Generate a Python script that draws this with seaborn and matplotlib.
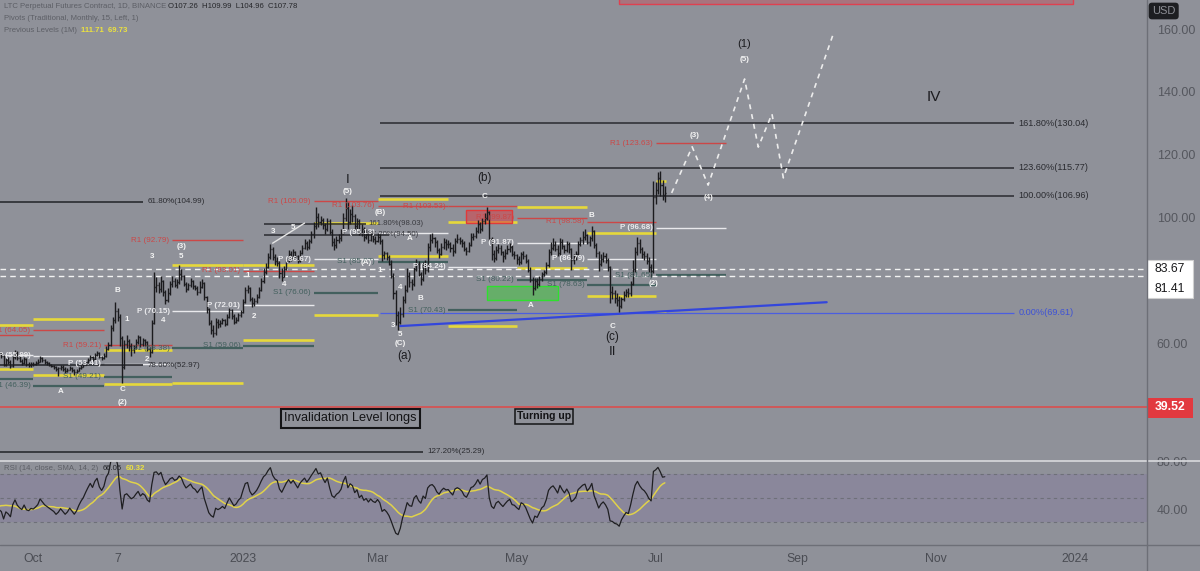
import numpy as np
import pandas as pd
import matplotlib
matplotlib.use("Agg")
import matplotlib.pyplot as plt
import matplotlib.dates as mdates
from matplotlib.patches import Rectangle
from matplotlib.lines import Line2D
from matplotlib.transforms import blended_transform_factory
import seaborn as sns

# ---------------------------------------------------------------- data
history_start = "2022-08-17"
history_close = [60.8, 59.6, 55.1, 54.9, 55.6, 55.2, 55.8, 55.4, 55.9, 52.8, 53.6, 53.1, 52.4, 55.1, 54.6,
                 54.2, 56.1, 55.8, 55.3, 56.2, 57.1, 56.4, 57.9, 60.8, 61.3, 61.9, 60.2, 57.4, 57.8, 57.0]

close_sep = [56.4, 55.8, 53.1, 54.6, 53.9, 52.8, 55.6, 56.9, 55.2, 54.3, 53.7, 54.8, 53.2, 52.9, 53.4]
high_sep = [57.6, 57.2, 56.3, 55.1, 55.4, 54.6, 56.2, 57.8, 57.3, 55.9, 55.0, 55.6, 55.3, 54.0, 54.1]
low_sep = [55.9, 55.1, 52.6, 52.8, 53.2, 52.1, 52.4, 55.0, 54.6, 53.8, 52.9, 53.3, 52.7, 52.2, 52.5]

close_oct = [53.2, 53.6, 54.1, 55.3, 54.6, 53.9, 53.5, 53.1, 52.7, 52.3, 51.6, 51.9, 52.4, 51.8, 51.2, 51.5,
             52.0, 51.4, 50.8, 51.2, 51.9, 52.5, 53.0, 53.8, 54.6, 55.4, 54.9, 56.1, 56.8, 55.7, 55.2]
high_oct = [53.9, 54.2, 54.8, 56.0, 55.7, 54.9, 54.3, 53.9, 53.4, 53.0, 52.6, 52.5, 53.1, 52.9, 52.2, 52.1,
            52.6, 52.3, 51.8, 51.7, 52.4, 53.1, 53.6, 54.4, 55.3, 56.2, 55.9, 56.8, 57.6, 57.1, 56.0]
low_oct = [52.7, 52.9, 53.2, 53.9, 54.1, 53.3, 52.9, 52.6, 52.2, 51.7, 51.0, 49.4, 51.3, 51.2, 50.6, 50.9,
           51.3, 50.7, 49.9, 50.5, 51.0, 51.8, 52.3, 52.9, 53.7, 54.5, 54.3, 54.7, 55.9, 55.1, 54.6]

close_nov = [56.0, 58.2, 59.4, 64.8, 67.2, 70.1, 68.3, 61.5, 52.4, 59.8, 60.6, 59.2, 57.9, 58.6, 60.3, 61.8,
             59.7, 60.9, 60.2, 58.1, 57.2, 66.5, 77.8, 78.4, 77.1, 79.6, 76.3, 73.8, 75.9, 78.7]
high_nov = [56.9, 58.9, 60.3, 65.7, 68.4, 73.0, 71.2, 69.1, 62.3, 61.0, 62.4, 61.3, 60.1, 59.5, 61.2, 62.7,
            62.1, 61.6, 61.4, 60.6, 58.7, 67.4, 82.6, 80.9, 79.3, 81.2, 80.1, 76.8, 77.4, 79.8]
low_nov = [54.8, 55.6, 57.7, 58.9, 63.8, 66.5, 66.9, 59.2, 47.4, 51.8, 58.3, 57.6, 55.8, 56.9, 58.1, 59.6,
           58.7, 59.2, 59.1, 57.3, 55.6, 56.8, 65.9, 76.2, 75.8, 76.4, 75.1, 72.4, 73.2, 75.4]

close_dec = [79.8, 78.6, 79.4, 82.1, 81.3, 78.9, 77.2, 78.4, 79.6, 78.1, 77.5, 76.2, 77.8, 79.1, 74.5, 70.8,
             66.3, 64.2, 63.1, 66.8, 65.9, 66.4, 67.2, 66.1, 68.3, 70.4, 68.6, 66.7, 67.4, 68.9, 69.8]
high_dec = [81.3, 80.6, 80.4, 84.8, 83.5, 81.7, 79.4, 79.2, 80.7, 80.2, 78.6, 78.1, 79.6, 80.4, 79.3, 75.1,
            71.2, 67.4, 65.8, 67.9, 67.6, 67.3, 68.1, 67.8, 69.2, 71.1, 70.9, 69.1, 68.3, 69.7, 70.5]
low_dec = [77.9, 77.8, 77.6, 78.9, 80.2, 78.1, 76.4, 76.8, 77.9, 77.3, 76.8, 75.4, 75.9, 77.6, 73.8, 69.6,
           65.8, 62.9, 61.8, 62.7, 64.8, 65.1, 65.9, 65.4, 65.8, 67.9, 67.8, 66.1, 66.3, 67.1, 68.4]

close_jan = [73.2, 76.8, 77.4, 74.1, 72.6, 73.5, 74.8, 76.9, 79.8, 82.6, 84.1, 87.3, 89.9, 87.4, 86.1, 85.6,
             82.4, 81.1, 83.5, 86.2, 88.4, 87.1, 88.9, 87.6, 86.2, 88.8, 90.4, 91.9, 90.6, 92.4, 94.8]
high_jan = [74.1, 77.9, 78.6, 77.9, 74.8, 74.4, 75.6, 77.8, 80.6, 83.9, 85.4, 88.7, 91.4, 90.6, 88.3, 87.4,
            86.2, 83.9, 84.6, 87.1, 89.6, 89.2, 89.9, 89.4, 88.1, 89.6, 91.3, 93.2, 92.6, 93.1, 95.6]
low_jan = [69.6, 72.8, 75.9, 73.4, 71.4, 71.9, 72.8, 74.3, 76.5, 79.2, 81.9, 83.8, 86.7, 86.3, 84.9, 84.6,
           80.8, 79.6, 80.9, 83.2, 85.7, 86.2, 86.8, 86.9, 85.4, 85.9, 88.2, 89.8, 89.7, 89.9, 91.8]

close_feb = [97.2, 100.1, 98.4, 99.3, 97.6, 96.2, 98.9, 95.4, 92.1, 91.3, 92.8, 93.6, 95.2, 99.8, 103.1,
             98.6, 101.2, 100.4, 97.3, 98.9, 95.1, 96.4, 93.8, 94.7, 92.9, 94.3, 93.1, 92.6]
high_feb = [98.4, 103.2, 101.3, 100.6, 99.9, 98.1, 99.7, 99.4, 96.2, 93.4, 94.1, 94.7, 96.3, 101.4, 106.2,
            104.8, 102.6, 103.9, 101.2, 99.8, 99.6, 97.9, 97.1, 96.2, 95.4, 95.8, 95.3, 94.2]
low_feb = [93.6, 96.4, 96.8, 97.6, 96.3, 94.8, 95.7, 94.6, 90.8, 89.6, 90.4, 91.8, 92.6, 94.7, 98.9,
           96.4, 97.8, 98.6, 95.8, 96.1, 94.3, 94.1, 92.6, 93.2, 91.7, 92.4, 92.1, 91.6]

close_mar = [93.8, 92.4, 87.9, 88.6, 87.3, 85.2, 81.4, 75.8, 68.9, 66.8, 69.2, 73.6, 76.8, 81.5, 79.3, 78.9,
             83.6, 85.2, 82.1, 80.4, 84.7, 83.2, 90.6, 92.8, 93.4, 92.1, 89.6, 88.3, 90.7, 92.2, 91.4]
high_mar = [95.1, 94.6, 93.2, 89.4, 89.1, 87.9, 86.3, 82.4, 76.8, 70.2, 71.4, 74.9, 78.6, 83.9, 82.7, 80.4,
            85.1, 86.9, 86.1, 82.7, 85.9, 86.3, 91.8, 94.6, 95.1, 93.8, 92.7, 90.4, 91.8, 93.6, 93.1]
low_mar = [92.1, 91.6, 86.2, 86.9, 86.4, 84.7, 80.6, 73.9, 65.7, 64.3, 66.1, 68.4, 72.8, 76.2, 77.8, 76.9,
           78.3, 82.9, 81.4, 78.6, 79.8, 81.9, 82.7, 89.4, 91.8, 90.6, 88.7, 87.1, 87.9, 89.8, 89.7]

close_apr = [91.6, 90.3, 89.2, 92.4, 93.1, 92.6, 91.8, 90.1, 89.4, 91.3, 93.7, 94.2, 95.6, 97.8, 96.4, 98.9,
             99.7, 101.6, 93.2, 88.4, 87.1, 89.6, 90.4, 88.9, 87.6, 88.8, 89.9, 90.6, 88.2, 87.9]
high_apr = [92.8, 92.1, 91.4, 93.6, 94.8, 93.9, 93.2, 92.4, 90.6, 92.2, 94.9, 95.1, 96.8, 99.1, 98.6, 99.8,
            101.4, 103.4, 101.9, 93.8, 89.6, 90.8, 91.6, 91.2, 89.4, 89.9, 91.3, 91.8, 91.1, 89.4]
low_apr = [90.4, 89.1, 87.6, 88.7, 91.8, 91.6, 90.7, 89.2, 88.1, 88.9, 90.8, 92.9, 93.6, 95.1, 95.2, 95.8,
           97.9, 99.3, 92.4, 86.6, 85.9, 86.4, 88.7, 88.1, 85.7, 86.9, 88.2, 89.1, 87.6, 86.8]

close_may = [86.8, 85.9, 88.2, 87.6, 86.1, 83.4, 80.2, 77.4, 79.6, 78.8, 80.3, 81.9, 82.6, 84.8, 88.9, 90.4,
             91.2, 90.1, 88.7, 92.3, 90.8, 89.6, 91.4, 89.9, 86.4, 87.1, 88.3, 91.6, 92.7, 93.8, 94.3]
high_may = [88.4, 87.6, 89.1, 89.3, 88.4, 86.9, 84.1, 80.9, 80.7, 80.6, 81.4, 82.7, 83.4, 85.9, 89.8, 92.1,
            93.4, 92.6, 91.2, 93.4, 93.1, 91.2, 92.6, 92.3, 90.4, 88.3, 89.4, 92.6, 93.9, 95.8, 96.4]
low_may = [85.3, 84.9, 85.1, 86.8, 85.4, 82.6, 79.3, 75.4, 76.8, 77.6, 78.2, 79.6, 81.4, 82.1, 84.2, 88.1,
           89.6, 89.2, 87.6, 88.1, 89.9, 88.7, 88.9, 88.6, 83.2, 85.3, 86.4, 87.9, 90.8, 91.6, 92.8]

close_jun = [92.1, 93.4, 95.6, 91.2, 88.6, 85.3, 86.9, 87.8, 86.4, 84.1, 76.3, 75.8, 74.2, 73.6, 71.8, 73.9,
             75.2, 76.4, 75.8, 78.9, 83.6, 88.9, 91.7, 89.8, 88.4, 87.6, 86.2, 84.1, 82.9, 106.4]
high_jun = [94.8, 94.1, 97.2, 96.1, 91.8, 89.2, 88.3, 89.1, 88.6, 87.2, 84.6, 78.3, 76.9, 75.8, 74.9, 74.8,
            76.6, 77.2, 77.4, 79.8, 86.4, 90.6, 93.8, 93.1, 90.6, 89.4, 88.7, 87.4, 85.1, 111.71]
low_jun = [91.4, 90.8, 92.6, 90.4, 87.3, 82.9, 84.6, 85.9, 85.6, 82.8, 72.8, 74.1, 72.6, 71.9, 69.73, 71.3,
           73.4, 74.6, 74.8, 75.1, 78.4, 82.7, 87.9, 88.6, 87.2, 86.4, 85.1, 82.6, 80.9, 82.4]

close_jul = [108.8, 112.6, 110.3, 107.3, 107.78]
high_jul = [111.4, 114.6, 114.9, 111.8, 109.99]
low_jul = [104.2, 107.6, 106.9, 105.4, 104.96]

# monthly traditional pivots (R1 / P / S1) and previous-month high / low
pivot_months = ["2022-09-01", "2022-10-01", "2022-11-01", "2022-12-01", "2023-01-01", "2023-02-01",
                "2023-03-01", "2023-04-01", "2023-05-01", "2023-06-01", "2023-07-01", "2023-08-01"]
pivot_r1 = [62.60, 64.05, 59.21, 92.79, 83.01, 105.09, 103.76, 103.53, 99.87, 98.58, 123.63]
pivot_p = [56.10, 55.99, 53.41, 70.15, 72.01, 86.67, 95.13, 84.24, 91.87, 86.79, 96.68]
pivot_s1 = [48.40, 46.39, 49.21, 58.38, 59.06, 76.06, 85.87, 70.43, 80.22, 78.63, 81.65]
prev_high = [65.70, 67.70, 57.80, 84.90, 84.80, 98.20, 105.90, 98.50, 103.30, 95.00, 111.71]
prev_low = [51.70, 49.80, 47.10, 47.40, 61.00, 69.00, 87.70, 65.40, 83.90, 74.90, 69.73]

fib_right_labels = ["161.80%(130.04)", "123.60%(115.77)", "100.00%(106.96)"]
fib_right_values = [130.04, 115.77, 106.96]
fib_zero_label, fib_zero_value = "0.00%(69.61)", 69.61
fib_left_labels = ["61.80%(104.99)", "78.60%(52.97)"]
fib_left_values = [104.99, 52.97]
fib_low_label, fib_low_value = "127.20%(25.29)", 25.29
fib_mid_labels = ["161.80%(98.03)", "127.20%(94.50)"]
fib_mid_values = [98.03, 94.50]

level_invalidation = 39.52
level_dash = [83.67, 81.41]

proj_dates = ["2023-07-08", "2023-07-17", "2023-07-24", "2023-08-09", "2023-08-15", "2023-08-21",
              "2023-08-26", "2023-09-17"]
proj_prices = [107.8, 122.5, 110.3, 144.1, 122.4, 133.0, 112.6, 158.7]

trend_dates = ["2023-03-11", "2023-09-14"]
trend_prices = [65.4, 73.0]

date_tick_dates = ["2022-10-01", "2022-11-07", "2023-01-01", "2023-03-01", "2023-05-01", "2023-07-01",
                   "2023-09-01", "2023-11-01", "2024-01-01"]
date_tick_labels = ["Oct", "7", "2023", "Mar", "May", "Jul", "Sep", "Nov", "2024"]
price_ticks = [60, 100, 120, 140, 160]
rsi_ticks = [40, 80]

# ---------------------------------------------------------------- frame
blocks = [("2022-09-16", close_sep, high_sep, low_sep), ("2022-10-01", close_oct, high_oct, low_oct),
          ("2022-11-01", close_nov, high_nov, low_nov), ("2022-12-01", close_dec, high_dec, low_dec),
          ("2023-01-01", close_jan, high_jan, low_jan), ("2023-02-01", close_feb, high_feb, low_feb),
          ("2023-03-01", close_mar, high_mar, low_mar), ("2023-04-01", close_apr, high_apr, low_apr),
          ("2023-05-01", close_may, high_may, low_may), ("2023-06-01", close_jun, high_jun, low_jun),
          ("2023-07-01", close_jul, high_jul, low_jul)]
frames = []
for start, c, h, l in blocks:
    d = pd.date_range(start, periods=len(c), freq="D")
    frames.append(pd.DataFrame({"date": d, "close": c, "high": h, "low": l}))
df = pd.concat(frames, ignore_index=True)
df["open"] = [history_close[-1]] + df["close"].tolist()[:-1]

allc = pd.Series(history_close + df["close"].tolist())
alld = pd.date_range(history_start, periods=len(allc), freq="D")
delta = allc.diff()
up = delta.clip(lower=0).ewm(alpha=1 / 14, adjust=False).mean()
dn = (-delta.clip(upper=0)).ewm(alpha=1 / 14, adjust=False).mean()
rsi = 100 - 100 / (1 + up / dn)
rsi_ma = rsi.rolling(14).mean()
rsi_df = pd.DataFrame({"date": alld, "rsi": rsi.values, "ma": rsi_ma.values})

# ---------------------------------------------------------------- figure
sns.set_theme(style="white")
plt.rcParams["font.family"] = ["Liberation Sans", "DejaVu Sans"]

BG = "#8f9199"
W, H = 1200, 571
fig = plt.figure(figsize=(12, 5.71), dpi=100, facecolor=BG)


def fx(px):
    return px / W


def fy(py):
    return 1 - py / H


ax = fig.add_axes([0, fy(460), fx(1147), 460 / H])
ax2 = fig.add_axes([0, fy(545), fx(1147), (545 - 461) / H])
for a in (ax, ax2):
    a.set_facecolor(BG)
    for s in a.spines.values():
        s.set_visible(False)

D = lambda s: mdates.date2num(pd.Timestamp(s))
base = D("2023-01-01")
ppd = 2.28
xlim = (base - 243 / ppd, base + (1147 - 243) / ppd)
ax.set_xlim(xlim)
ax2.set_xlim(xlim)
ax.set_ylim(22.73, 169.27)
ax2.set_ylim(10.83, 80.83)

# -------- pivots
RED, WHITE, TEAL, YEL = "#cc4747", "#e9e9ec", "#43605e", "#e6d83a"
last_date = D(df["date"].iloc[-1]) + 0.5
for i in range(len(pivot_r1)):
    s, e = D(pivot_months[i]), D(pivot_months[i + 1])
    ax.hlines(pivot_r1[i], s, e, color=RED, lw=1.0, zorder=1)
    ax.hlines(pivot_p[i], s, e, color=WHITE, lw=1.0, zorder=1)
    ax.hlines(pivot_s1[i], s, e, color=TEAL, lw=1.6, zorder=1)
    ye = min(e, last_date)
    ax.hlines([prev_high[i], prev_low[i]], s, ye, color=YEL, lw=1.9, zorder=1)
    lx = s - 1.2
    ax.text(lx, pivot_r1[i], f"R1 ({pivot_r1[i]:.2f})", color=RED, fontsize=5.8, ha="right", va="center", zorder=4)
    ax.text(lx, pivot_p[i], f"P ({pivot_p[i]:.2f})", color=WHITE, fontsize=5.8, ha="right", va="center",
            fontweight="bold", zorder=4)
    ax.text(lx, pivot_s1[i], f"S1 ({pivot_s1[i]:.2f})", color=TEAL, fontsize=5.8, ha="right", va="center", zorder=4)

# -------- fib lines
FIB = "#2a2b30"
for lab, v in zip(fib_right_labels, fib_right_values):
    ax.hlines(v, D("2023-03-02"), D("2023-12-05"), color=FIB, lw=1.1, zorder=2)
    ax.text(D("2023-12-07"), v, lab, color=FIB, fontsize=6.6, ha="left", va="center")
ax.hlines(fib_zero_value, D("2023-03-02"), D("2023-12-05"), color="#4b5ee0", lw=0.9, zorder=2)
ax.text(D("2023-12-07"), fib_zero_value, fib_zero_label, color="#3e52d6", fontsize=6.6, ha="left", va="center")
for lab, v in zip(fib_left_labels, fib_left_values):
    ax.hlines(v, xlim[0], D("2022-11-18"), color=FIB, lw=1.2, zorder=2)
    ax.text(D("2022-11-20"), v, lab, color=FIB, fontsize=5.8, ha="left", va="center")
ax.hlines(fib_low_value, xlim[0], D("2023-03-21"), color=FIB, lw=1.2, zorder=2)
ax.text(D("2023-03-23"), fib_low_value, fib_low_label, color=FIB, fontsize=5.8, ha="left", va="center")
ax.hlines(fib_mid_values[0], D("2023-01-10"), D("2023-02-24"), color=FIB, lw=1.1, zorder=2)
ax.hlines(fib_mid_values[1], D("2023-01-10"), D("2023-03-06"), color=FIB, lw=1.1, zorder=2)
ax.text(D("2023-02-25"), fib_mid_values[0], fib_mid_labels[0], color="#3a3b40", fontsize=5.6, ha="left", va="center")
ax.text(D("2023-02-23"), fib_mid_values[1], fib_mid_labels[1], color="#3a3b40", fontsize=5.6, ha="left", va="center")

# -------- boxes
ax.add_patch(Rectangle((D("2023-04-09"), 98.2), D("2023-04-29") - D("2023-04-09"), 4.1,
                       fc=(0.85, 0.25, 0.28, 0.55), ec="#e03a3a", lw=1.0, zorder=2))
ax.add_patch(Rectangle((D("2023-04-18"), 73.7), D("2023-05-19") - D("2023-04-18"), 4.5,
                       fc=(0.35, 0.72, 0.35, 0.75), ec="#2ee02e", lw=1.0, zorder=2))
ax.add_patch(Rectangle((D("2023-06-15"), 168.0), D("2023-12-31") - D("2023-06-15"), 10,
                       fc=(0.85, 0.25, 0.3, 0.35), ec="#e04050", lw=1.0, zorder=2))

# -------- horizontal levels
ax.axhline(level_invalidation, color="#e04848", lw=1.1, zorder=2)
for v in level_dash:
    ax.axhline(v, color="#f2f2f2", lw=1.0, ls=(0, (4, 3)), zorder=2)

# -------- trend + projection
sns.lineplot(x=[D(d) for d in trend_dates], y=trend_prices, ax=ax, color="#3346dc", lw=1.6, zorder=3)
sns.lineplot(x=[D(d) for d in proj_dates], y=proj_prices, ax=ax, color="#ececec", lw=1.2,
             linestyle=(0, (3, 3)), zorder=3, sort=False)
ax.plot([D("2023-01-14"), D("2023-01-28")], [91.8, 98.2], color="#e6e6e6", lw=1.0, zorder=3)

# -------- OHLC bars
x = mdates.date2num(df["date"])
lo = np.minimum(df["low"], np.minimum(df["open"], df["close"]))
hi = np.maximum(df["high"], np.maximum(df["open"], df["close"]))
BAR = "#1b1b1e"
ax.vlines(x, lo, hi, color=BAR, lw=1.0, zorder=3)
ax.hlines(df["open"], x - 0.45, x, color=BAR, lw=1.0, zorder=3)
ax.hlines(df["close"], x, x + 0.45, color=BAR, lw=1.0, zorder=3)

# -------- wave labels
minor = [("2022-10-13", 44.4, "A"), ("2022-11-07", 76.6, "B"), ("2022-11-09", 45.1, "C"),
         ("2022-11-09", 41.2, "(2)"), ("2022-11-11", 67.6, "1"), ("2022-11-20", 54.6, "2"),
         ("2022-11-22", 87.4, "3"), ("2022-11-27", 67.3, "4"), ("2022-12-05", 87.4, "5"),
         ("2022-12-05", 90.9, "(3)"), ("2023-01-03", 81.6, "1"), ("2023-01-06", 68.6, "2"),
         ("2023-01-14", 95.4, "3"), ("2023-01-19", 78.6, "4"), ("2023-01-23", 96.7, "5"),
         ("2023-02-16", 108.4, "(5)"), ("2023-03-02", 101.5, "(B)"), ("2023-02-24", 85.8, "(A)"),
         ("2023-03-02", 83.0, "1"), ("2023-03-15", 93.4, "A"), ("2023-03-08", 65.7, "3"),
         ("2023-03-11", 77.8, "4"), ("2023-03-11", 62.6, "5"), ("2023-03-11", 60.0, "(C)"),
         ("2023-03-20", 74.3, "B"), ("2023-04-17", 106.8, "C"), ("2023-05-07", 71.8, "A"),
         ("2023-06-03", 100.7, "B"), ("2023-06-12", 65.4, "C"), ("2023-06-30", 78.8, "(2)"),
         ("2023-07-18", 126.0, "(3)"), ("2023-07-24", 106.5, "(4)"), ("2023-08-09", 150.2, "(5)")]
for d, p, s in minor:
    ax.text(D(d), p, s, color="#f4f4f4", fontsize=5.8, fontweight="bold", ha="center", va="center", zorder=5)

major = [("2023-02-16", 112.0, "I", 9.5), ("2023-04-17", 112.5, "(b)", 8.5), ("2023-03-13", 55.8, "(a)", 8.5),
         ("2023-06-12", 61.8, "(c)", 8.5), ("2023-06-12", 57.2, "II", 9.5), ("2023-08-09", 155.3, "(1)", 8.0),
         ("2023-10-31", 138.3, "IV", 11)]
for d, p, s, fs in major:
    ax.text(D(d), p, s, color="#1c1c20", fontsize=fs, ha="center", va="center", zorder=5)

ax.text(D("2023-02-17"), 36.0, "Invalidation Level longs", color="#141416", fontsize=9.2, ha="center",
        va="center", zorder=5, bbox=dict(boxstyle="square,pad=0.25", fc="none", ec="#141416", lw=1.5))
ax.text(D("2023-05-13"), 36.6, "Turning up", color="#141416", fontsize=7.6, fontweight="bold", ha="center",
        va="center", zorder=5, bbox=dict(boxstyle="square,pad=0.2", fc="none", ec="#141416", lw=1.1))

# -------- price axis
ax.yaxis.tick_right()
ax.set_yticks(price_ticks)
ax.set_yticklabels([f"{v:.2f}" for v in price_ticks])
ax.tick_params(axis="y", length=0, pad=7, labelcolor="#55575e", labelsize=9)
ax.set_xticks([])
ax.set_xlabel("")
ax.set_ylabel("")

tr = blended_transform_factory(ax.transAxes, ax.transData)
ax.add_patch(Rectangle((1.0, 74.33), 46 / 1147, 12.11, transform=tr, fc="white", ec="#d0d0d0", lw=0.8,
                       clip_on=False, zorder=6))
ax.text(1.0 + 23 / 1147, 83.67, "83.67", transform=tr, color="#18181a", fontsize=8.8, ha="center",
        va="center", clip_on=False, zorder=7)
ax.text(1.0 + 23 / 1147, 77.2, "81.41", transform=tr, color="#18181a", fontsize=8.8, ha="center",
        va="center", clip_on=False, zorder=7)
ax.add_patch(Rectangle((1.0, 36.1), 46 / 1147, 6.4, transform=tr, fc="#e2393f", ec="none",
                       clip_on=False, zorder=6))
ax.text(1.0 + 23 / 1147, level_invalidation, f"{level_invalidation:.2f}", transform=tr, color="white",
        fontsize=8.8, fontweight="bold", ha="center", va="center", clip_on=False, zorder=7)

# -------- RSI panel
ax2.axhspan(30, 70, color="#8a879b", lw=0, zorder=0)
for v in (70, 50, 30):
    ax2.axhline(v, color="#6e7079", lw=0.8, ls=(0, (3, 3)), zorder=1)
sns.lineplot(data=rsi_df, x="date", y="ma", ax=ax2, color="#e0d24a", lw=1.1, zorder=2)
sns.lineplot(data=rsi_df, x="date", y="rsi", ax=ax2, color="#1f1f22", lw=0.9, zorder=3)
ax2.set_xlim(xlim)
ax2.set_ylim(10.83, 80.83)
ax2.yaxis.tick_right()
ax2.set_yticks(rsi_ticks)
ax2.set_yticklabels([f"{v:.2f}" for v in rsi_ticks])
ax2.tick_params(axis="y", length=0, pad=7, labelcolor="#55575e", labelsize=9)
ax2.set_xticks([D(d) for d in date_tick_dates])
ax2.set_xticklabels(date_tick_labels)
ax2.tick_params(axis="x", length=0, pad=6, labelcolor="#4a4c53", labelsize=8.8)
ax2.set_xlabel("")
ax2.set_ylabel("")

# -------- frame lines
fig.add_artist(Line2D([0, 1], [fy(461), fy(461)], transform=fig.transFigure, color="#d3d4d8", lw=1.3))
fig.add_artist(Line2D([0, 1], [fy(545), fy(545)], transform=fig.transFigure, color="#6d6f77", lw=1.0))
fig.add_artist(Line2D([fx(1147), fx(1147)], [0, 1], transform=fig.transFigure, color="#6d6f77", lw=1.0))

# -------- header texts
GRAY = "#5d5f66"
fig.text(fx(4), fy(7), "LTC Perpetual Futures Contract, 1D, BINANCE", color=GRAY, fontsize=5.6, va="center")
fig.text(fx(168), fy(7), "O107.26  H109.99  L104.96  C107.78", color="#26272b", fontsize=5.6, va="center")
fig.text(fx(4), fy(19), "Pivots (Traditional, Monthly, 15, Left, 1)", color=GRAY, fontsize=5.6, va="center")
fig.text(fx(4), fy(30), "Previous Levels (1M)", color=GRAY, fontsize=5.6, va="center")
fig.text(fx(81), fy(30), "111.71  69.73", color="#ece23e", fontsize=5.6, va="center", fontweight="bold")
fig.text(fx(4), fy(469), "RSI (14, close, SMA, 14, 2)", color=GRAY, fontsize=5.6, va="center")
fig.text(fx(103), fy(469), "66.05", color="#26272b", fontsize=5.6, va="center")
fig.text(fx(126), fy(469), "60.32", color="#ece23e", fontsize=5.6, va="center", fontweight="bold")
fig.text(fx(1152), fy(11), "USD", color="#8d8f96", fontsize=8, va="center",
         bbox=dict(boxstyle="round,pad=0.3", fc="#1d1e22", ec="none"))

leg = ax.get_legend()
if leg:
    leg.remove()
leg2 = ax2.get_legend()
if leg2:
    leg2.remove()

fig.savefig("out.png", dpi=100, facecolor=BG)
